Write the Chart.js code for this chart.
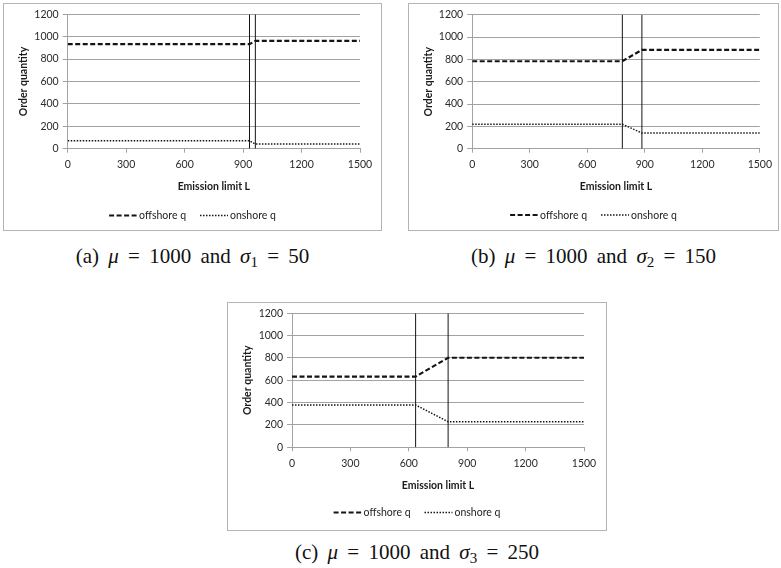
<!DOCTYPE html>
<html>
<head>
<meta charset="utf-8">
<script src="https://cdn.jsdelivr.net/npm/chart.js@4.4.1/dist/chart.umd.min.js"></script>
<style>
  html, body { margin: 0; padding: 0; background: #fff; }
  body { width: 781px; height: 568px; position: relative; overflow: hidden; }
  .box { position: absolute; border: 1px solid #b4b4b4; box-sizing: border-box; background: #fff; }
  .box canvas { display: block; }
  .cap { position: absolute; font-family: "Liberation Serif", serif; font-size: 21px; color: #111;
         text-align: center; white-space: nowrap; line-height: 21px; word-spacing: 4px; }
  .cap i { font-style: italic; }
  .cap sub { font-size: 15px; vertical-align: -4px; line-height: 0; }
</style>
</head>
<body>
<div class="box" id="box-a" style="left:3px; top:3px; width:379px; height:228px;"><canvas id="chart-a" width="377" height="226"></canvas></div>
<div class="box" id="box-b" style="left:408px; top:3px; width:371px; height:228px;"><canvas id="chart-b" width="369" height="226"></canvas></div>
<div class="box" id="box-c" style="left:227px; top:302px; width:380px; height:229px;"><canvas id="chart-c" width="378" height="227"></canvas></div>

<div class="cap" style="left:3px; width:379px; top:246px;">(a) <i>μ</i> = 1000 and <i>σ</i><sub>1</sub> = 50</div>
<div class="cap" style="left:408px; width:371px; top:246px;">(b) <i>μ</i> = 1000 and <i>σ</i><sub>2</sub> = 150</div>
<div class="cap" style="left:227px; width:380px; top:542px;">(c) <i>μ</i> = 1000 and <i>σ</i><sub>3</sub> = 250</div>

<script>
// --- data ---
const xTicks = [0, 300, 600, 900, 1200, 1500];
const yTicks = [0, 200, 400, 600, 800, 1000, 1200];
const seriesNames = ['offshore q', 'onshore q'];

// (a) mu = 1000, sigma1 = 50
const limitsA = [0, 933, 963, 1500];
const offshoreA = [933, 933, 963, 963];
const onshoreA = [70, 70, 42, 42];
const cutsA = [933, 963];

// (b) mu = 1000, sigma2 = 150
const limitsB = [0, 783, 885, 1500];
const offshoreB = [783, 783, 885, 885];
const onshoreB = [220, 220, 140, 140];
const cutsB = [783, 885];

// (c) mu = 1000, sigma3 = 250
const limitsC = [0, 635, 802, 1500];
const offshoreC = [633, 633, 802, 802];
const onshoreC = [379, 379, 229, 229];
const cutsC = [635, 802];

// --- styling ---
const gridGray = '#a3a3a3';
const inkColor = '#141414';
const tickFont = { family: 'Lato', size: 10.5 };
const titleFont = { family: 'Lato', size: 10.5, weight: 'bold' };

const toPoints = (xs, ys) => xs.map((x, i) => ({ x: x, y: ys[i] }));

// draws the Excel-like legend under the x axis title
const lineLegend = {
    id: 'lineLegend',
    afterDraw(chart, args, opts) {
        const ctx = chart.ctx;
        const items = chart.data.datasets.filter(d => d.label);
        const sample = 28, gap = 2, spacing = 14;
        ctx.save();
        ctx.font = `${tickFont.size}px ${tickFont.family}`;
        const widths = items.map(d => sample + gap + ctx.measureText(d.label).width);
        const total = widths.reduce((a, b) => a + b, 0) + spacing * (items.length - 1);
        let x = chart.width / 2 - total / 2;
        const y = opts.y;
        items.forEach((d, i) => {
            ctx.beginPath();
            ctx.setLineDash(d.borderDash || []);
            ctx.lineWidth = d.borderWidth;
            ctx.strokeStyle = d.borderColor;
            ctx.moveTo(x, y);
            ctx.lineTo(x + sample, y);
            ctx.stroke();
            ctx.setLineDash([]);
            ctx.fillStyle = '#222';
            ctx.textBaseline = 'middle';
            ctx.fillText(d.label, x + sample + gap, y + 0.5);
            x += widths[i] + spacing;
        });
        ctx.restore();
    }
};

const makeChart = (canvasId, limits, offshore, onshore, cuts, plot, legendY) => {
    const canvas = document.getElementById(canvasId);
    const W = canvas.width, H = canvas.height;
    const titleBottom = 189;

    const datasets = [
        {
            label: seriesNames[0],
            data: toPoints(limits, offshore),
            borderColor: inkColor,
            borderWidth: 2.2,
            borderDash: [5, 2.5],
            pointRadius: 0,
            tension: 0
        },
        {
            label: seriesNames[1],
            data: toPoints(limits, onshore),
            borderColor: inkColor,
            borderWidth: 1.5,
            borderDash: [1.5, 1.5],
            pointRadius: 0,
            tension: 0
        }
    ];
    // the two vertical marker lines
    cuts.forEach(c => {
        datasets.push({
            data: [{ x: c, y: yTicks[0] }, { x: c, y: yTicks[yTicks.length - 1] }],
            borderColor: inkColor,
            borderWidth: 1,
            pointRadius: 0
        });
    });

    return new Chart(canvas, {
        type: 'line',
        data: { datasets: datasets },
        plugins: [lineLegend],
        options: {
            responsive: false,
            animation: false,
            devicePixelRatio: 1,
            layout: {
                padding: { left: 0, top: plot.top, right: W - plot.right, bottom: H - titleBottom }
            },
            plugins: {
                legend: { display: false },
                tooltip: { enabled: false },
                lineLegend: { y: legendY }
            },
            scales: {
                x: {
                    type: 'linear',
                    min: xTicks[0],
                    max: xTicks[xTicks.length - 1],
                    afterBuildTicks: s => { s.ticks = xTicks.map(v => ({ value: v })); },
                    afterFit: s => { s.height = titleBottom - plot.bottom; },
                    grid: { drawOnChartArea: false, drawTicks: true, tickLength: 4, color: gridGray },
                    border: { display: true, color: gridGray },
                    ticks: { font: tickFont, color: '#2a2a2a', padding: 6, maxRotation: 0,
                             callback: v => String(v) },
                    title: { display: true, text: 'Emission limit L', font: titleFont, color: '#1a1a1a',
                             padding: { top: 0, bottom: 0 } }
                },
                y: {
                    type: 'linear',
                    min: yTicks[0],
                    max: yTicks[yTicks.length - 1],
                    afterBuildTicks: s => { s.ticks = yTicks.map(v => ({ value: v })); },
                    afterFit: s => { s.width = plot.left; },
                    grid: { color: gridGray, tickLength: 5 },
                    border: { display: true, color: gridGray },
                    ticks: { font: tickFont, color: '#2a2a2a', padding: 4, callback: v => String(v) },
                    title: { display: true, text: 'Order quantity', font: titleFont, color: '#1a1a1a',
                             padding: { top: 13, bottom: 0 } }
                }
            }
        }
    });
};

makeChart('chart-a', limitsA, offshoreA, onshoreA, cutsA,
    { left: 63.7, right: 356, top: 10.3, bottom: 144.7 }, 211.5);
makeChart('chart-b', limitsB, offshoreB, onshoreB, cutsB,
    { left: 63.2, right: 357, top: 10.7, bottom: 144.7 }, 211);
makeChart('chart-c', limitsC, offshoreC, onshoreC, cutsC,
    { left: 64, right: 356, top: 10.3, bottom: 144.3 }, 209.5);
</script>
</body>
</html>
